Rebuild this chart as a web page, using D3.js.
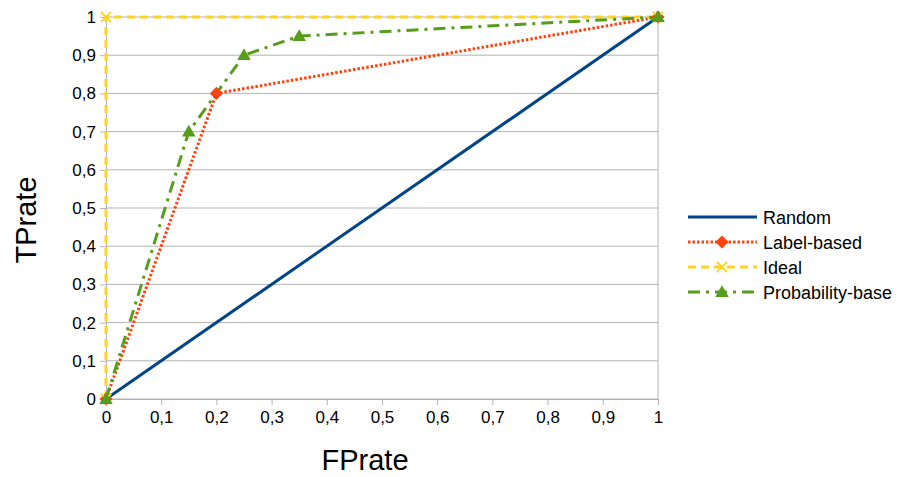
<!DOCTYPE html>
<html lang="en">
<head>
<meta charset="UTF-8" />
<title>ROC curves</title>
<script src="https://d3js.org/d3.v7.min.js"></script>
<style>
  body { margin: 0; background: #fff; }
  svg text { font-family: "Liberation Sans", Arial, sans-serif; fill: #000; }
</style>
</head>
<body>
<div id="chart"></div>
<script>
// chart data
const seriesNames = ["Random", "Label-based", "Ideal", "Probability-base"];
const randomPts = [[0, 0], [1, 1]];
const labelPts = [[0, 0], [0.2, 0.8], [1, 1]];
const idealPts = [[0, 0], [0, 1], [1, 1]];
const probPts = [[0, 0], [0.15, 0.7], [0.25, 0.9], [0.35, 0.95], [1, 1]];
const tickVals = d3.range(0, 11).map(i => i / 10);

const width = 898, height = 477;
const margin = { top: 17, right: 240, bottom: 78, left: 106 };

const svg = d3.select("#chart").append("svg")
  .attr("width", width).attr("height", height);

const x = d3.scaleLinear().domain([0, 1]).range([margin.left, width - margin.right]);
const y = d3.scaleLinear().domain([0, 1]).range([height - margin.bottom, margin.top]);

const fmt = d => d === 0 || d === 1 ? String(d) : String(d).replace(".", ",");

// horizontal gridlines
svg.append("g").selectAll("line").data(tickVals).join("line")
  .attr("x1", x(0)).attr("x2", x(1))
  .attr("y1", d => y(d)).attr("y2", d => y(d))
  .attr("stroke", "#b3b3b3").attr("stroke-width", 1);

// y axis
const yAxis = svg.append("g")
  .attr("transform", `translate(${x(0)},0)`)
  .call(d3.axisLeft(y).tickValues(tickVals).tickFormat(fmt).tickSize(6).tickPadding(4));
yAxis.selectAll("text").style("font-size", "17px");

// x axis
const xAxis = svg.append("g")
  .attr("transform", `translate(0,${y(0)})`)
  .call(d3.axisBottom(x).tickValues(tickVals).tickFormat(fmt).tickSize(6).tickPadding(6));
xAxis.selectAll("text").style("font-size", "17px");

[yAxis, xAxis].forEach(a => {
  a.select(".domain").attr("stroke", "#b3b3b3");
  a.selectAll(".tick line").attr("stroke", "#b3b3b3");
});

// right border
svg.append("line")
  .attr("x1", x(1)).attr("x2", x(1)).attr("y1", y(0)).attr("y2", y(1))
  .attr("stroke", "#b3b3b3");

// axis titles
svg.append("text")
  .attr("x", 365).attr("y", 470)
  .attr("text-anchor", "middle").style("font-size", "29px").text("FPrate");
svg.append("text")
  .attr("transform", "translate(36,220) rotate(-90)")
  .attr("text-anchor", "middle").style("font-size", "29px").text("TPrate");

const series = [
  { name: seriesNames[0], pts: randomPts, color: "#004586", dash: null, marker: null },
  { name: seriesNames[1], pts: labelPts, color: "#ff420e", dash: "2.5,2", marker: "diamond" },
  { name: seriesNames[2], pts: idealPts, color: "#ffd320", dash: "8,5", marker: "cross" },
  { name: seriesNames[3], pts: probPts, color: "#579d1c", dash: "12,6,3,6", marker: "triangle" }
];

const line = d3.line().x(d => x(d[0])).y(d => y(d[1]));

function drawMarker(g, type, cx, cy, color) {
  if (type === "diamond") {
    g.append("path")
      .attr("d", d3.symbol(d3.symbolDiamond2, 110)())
      .attr("transform", `translate(${cx},${cy})`)
      .attr("fill", color);
  } else if (type === "cross") {
    g.append("path")
      .attr("d", d3.symbol(d3.symbolX, 70)())
      .attr("transform", `translate(${cx},${cy})`)
      .attr("fill", "none").attr("stroke", color).attr("stroke-width", 2);
  } else if (type === "triangle") {
    g.append("path")
      .attr("d", d3.symbol(d3.symbolTriangle, 80)())
      .attr("transform", `translate(${cx},${cy + 1})`)
      .attr("fill", color);
  }
}

const plot = svg.append("g");
series.forEach(s => {
  plot.append("path")
    .attr("d", line(s.pts))
    .attr("fill", "none")
    .attr("stroke", s.color)
    .attr("stroke-width", 3)
    .attr("stroke-dasharray", s.dash);
});
series.forEach(s => {
  if (!s.marker) return;
  s.pts.forEach(p => drawMarker(plot, s.marker, x(p[0]), y(p[1]), s.color));
});

// legend
const legend = svg.append("g");
series.forEach((s, i) => {
  const ly = 217 + i * 25;
  legend.append("line")
    .attr("x1", 688).attr("x2", 757).attr("y1", ly).attr("y2", ly)
    .attr("stroke", s.color).attr("stroke-width", 3)
    .attr("stroke-dasharray", s.dash);
  if (s.marker) drawMarker(legend, s.marker, 722, ly, s.color);
  legend.append("text")
    .attr("x", 763).attr("y", ly + 7)
    .style("font-size", "18px").text(s.name);
});
</script>
</body>
</html>
